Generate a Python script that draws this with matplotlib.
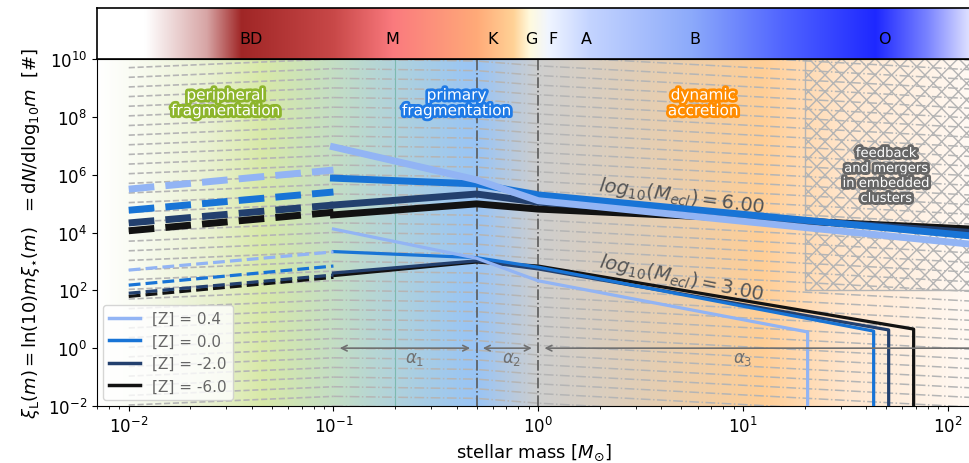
import numpy as np
import matplotlib
matplotlib.use("Agg")
import matplotlib.pyplot as plt
import matplotlib.patheffects as pe
from matplotlib.lines import Line2D
from matplotlib.patches import Rectangle

# ---------------- data (log10 values) ----------------
metallicities = [0.4, 0.0, -2.0, -6.0]
legend_labels = ["[Z] = 0.4", "[Z] = 0.0", "[Z] = -2.0", "[Z] = -6.0"]
series_colors = ["#92b4f4", "#1874d6", "#23406e", "#121212"]

# brown dwarf branch (dashed), masses 0.01 -> 0.1
m_bd = [0.01, 0.1]
bd_logxi_ecl6 = [[5.50, 6.16], [4.77, 5.40], [4.33, 4.95], [4.06, 4.70]]
bd_logxi_ecl3 = [[2.70, 3.33], [2.18, 2.84], [1.90, 2.53], [1.79, 2.45]]

# stellar branch, log10(Mecl)=6
m_star6 = [0.1, 0.5, 1.0, 150.0]
star_logxi_ecl6 = [[6.96, 5.82, 5.10, 3.55],
                   [5.88, 5.68, 5.30, 3.84],
                   [4.95, 5.33, 5.05, 3.97],
                   [4.61, 4.99, 4.81, 4.10]]

# stellar branch, log10(Mecl)=3 (truncated at m_max)
m_max_ecl3 = [20.7, 43.5, 51.5, 68.2]
star_logxi_ecl3 = [[4.12, 3.11, 2.33, 0.56],
                   [3.34, 3.13, 2.80, 0.59],
                   [2.60, 3.02, 2.74, 0.63],
                   [2.51, 2.98, 2.84, 0.66]]

spectral_types = ["BD", "M", "K", "G", "F", "A", "B", "O"]
spectral_mass = [0.0395, 0.193, 0.596, 0.925, 1.18, 1.72, 5.8, 49.0]

XMIN, XMAX = 0.007, 130.0
YMIN, YMAX = 1e-2, 1e10
LX0, LX1 = np.log10(XMIN), np.log10(XMAX)

# ---------------- figure ----------------
fig = plt.figure(figsize=(9.7, 4.64), dpi=100)
ax = fig.add_axes([97/970, 1-407/464, 874/970, 347/464])
axt = fig.add_axes([97/970, 1-60/464, 874/970, 51/464])

def gradient_image(stops, n=1200):
    lm = np.linspace(LX0, LX1, n)
    xs = [s[0] for s in stops]
    cols = np.array([s[1] for s in stops], float) / 255.0
    img = np.zeros((1, n, 3))
    for c in range(3):
        img[0, :, c] = np.interp(lm, xs, cols[:, c])
    return img

bg_stops = [(-2.15, (255, 255, 255)), (-2.0, (250, 252, 244)), (-1.6, (233, 241, 208)),
            (-1.35, (216, 233, 168)), (-1.0, (196, 222, 196)), (-0.7, (176, 210, 220)),
            (-0.3, (152, 196, 246)), (0.0, (206, 206, 206)), (0.5, (226, 206, 182)),
            (1.1, (255, 206, 150)), (1.5, (255, 230, 205)), (2.12, (255, 250, 245))]
ax.imshow(gradient_image(bg_stops), extent=[0, 1, 0, 1], transform=ax.transAxes,
          aspect="auto", zorder=0, interpolation="bilinear")

top_stops = [(-2.15, (255, 255, 255)), (-1.92, (255, 255, 255)), (-1.62, (215, 165, 165)),
             (-1.45, (160, 38, 38)), (-1.0, (200, 72, 72)), (-0.71, (250, 122, 126)),
             (-0.3, (255, 170, 120)), (-0.12, (255, 210, 150)), (-0.04, (255, 250, 222)),
             (0.05, (240, 245, 255)), (0.25, (196, 212, 255)), (0.75, (140, 170, 250)),
             (1.2, (80, 100, 255)), (1.65, (30, 40, 255)), (1.9, (120, 130, 255)),
             (2.12, (228, 230, 255))]
axt.imshow(gradient_image(top_stops), extent=[0, 1, 0, 1], transform=axt.transAxes,
           aspect="auto", zorder=0, interpolation="bilinear")
axt.set_xscale("log")
axt.set_xlim(XMIN, XMAX)
axt.set_ylim(0, 1)
axt.set_xticks([]); axt.set_yticks([])
axt.minorticks_off()
for t, mm in zip(spectral_types, spectral_mass):
    axt.text(mm, 0.4, t, ha="center", va="center", fontsize=11.5, color="black")
for s in axt.spines.values():
    s.set_linewidth(1.2)

ax.set_xscale("log"); ax.set_yscale("log")
ax.set_xlim(XMIN, XMAX); ax.set_ylim(YMIN, YMAX)

# grey background family of lines
offs = np.arange(-4.0, 12.0, 1/3)
for o in offs:
    lb = np.array([-2.0, -1.0])
    ax.plot(10**lb, 10**(o + 0.3*(lb + 1.0)), ls="--", color="#b5b5b5", lw=1.2, zorder=1)
    ls_ = np.array([-1.0, np.log10(0.5), 0.0, 2.3])
    yv = [o, o - 0.1*(np.log10(0.5)+1), 0, 0]
    yv[2] = yv[1] - 0.55*(0 - np.log10(0.5))
    yv[3] = yv[2] - 0.38*2.3
    ax.plot(10**ls_, 10**np.array(yv), ls="-.", color="#b5b5b5", lw=1.1, zorder=1)

# vertical markers
ax.axvline(0.2, color="#7dbab0", lw=0.8, zorder=1.5)
for xv in [0.5, 1.0]:
    ax.axvline(xv, color="#5a5a5a", lw=1.2, ls="-.", zorder=1.5)

# hatched region
plt.rcParams["hatch.color"] = "#b4b4b4"
plt.rcParams["hatch.linewidth"] = 1.0
ax.add_patch(Rectangle((20, 1e2), 300, 1e12, facecolor="none", edgecolor="#b4b4b4",
                       hatch="xx", lw=1.0, zorder=1.6))

# colored lines (drawn from lowest metallicity up, so [Z]=0.4 is on top)
for i in reversed(range(len(series_colors))):
    c = series_colors[i]
    ax.plot(m_bd, 10**np.array(bd_logxi_ecl6[i]), color=c, lw=5, ls="--", zorder=3)
    ax.plot(m_bd, 10**np.array(bd_logxi_ecl3[i]), color=c, lw=2.3, ls="--", zorder=3)
    ax.plot(m_star6, 10**np.array(star_logxi_ecl6[i]), color=c, lw=5, zorder=3)
    mm = [0.1, 0.5, 1.0, m_max_ecl3[i], m_max_ecl3[i]]
    yy = star_logxi_ecl3[i] + [-6]
    ax.plot(mm, 10**np.array(yy), color=c, lw=2.3, zorder=3)

# Mecl labels
ax.text(10**((680-537)/204.5), 10**(10-(197-60)/28.92), r"$log_{10}(M_{ecl}) = 6.00$",
        rotation=-7.6, ha="center", va="center", fontsize=14, color="#555555", zorder=4)
ax.text(10**((680-537)/204.5), 10**(10-(278-60)/28.92), r"$log_{10}(M_{ecl}) = 3.00$",
        rotation=-11.5, ha="center", va="center", fontsize=14, color="#555555", zorder=4)

def region_text(x, y, s, col, fs=11, lsp=1.05):
    ax.text(x, y, s, ha="center", va="center", fontsize=fs, color="white", zorder=5,
            linespacing=lsp,
            path_effects=[pe.withStroke(linewidth=4, foreground=col)])

region_text(0.0298, 10**(10-(104-60)/28.92), "peripheral\nfragmentation", "#8db52c")
region_text(0.40, 10**(10-(104-60)/28.92), "primary\nfragmentation", "#1f7ae6")
region_text(10**((702-537)/204.5), 10**(10-(104-60)/28.92), "dynamic\naccretion", "#ff8c00")
region_text(10**((885-537)/204.5), 10**(10-(177-60)/28.92),
            "feedback\nand mergers\nin embedded\nclusters", "#666666", fs=9.5, lsp=1.2)

# alpha arrows
acol = "#707070"
for (a, b), lab, xl in [((0.104, 0.48), r"$\alpha_1$", 0.248),
                        ((0.52, 0.96), r"$\alpha_2$", 0.738),
                        ((1.04, 200), r"$\alpha_3$", 10.0)]:
    ax.annotate("", xy=(a, 1), xytext=(b, 1),
                arrowprops=dict(arrowstyle="<->", color=acol, lw=1.2), zorder=4)
    ax.text(xl, 0.93, lab, ha="center", va="top", fontsize=12, color=acol, zorder=4)

# legend
handles = [Line2D([], [], color=c, lw=2.5) for c in series_colors]
leg = ax.legend(handles, legend_labels, loc="lower left", fontsize=11, framealpha=0.8,
                labelcolor="#666666", borderaxespad=0.4)
leg.set_zorder(6)

ax.tick_params(axis="both", labelsize=12)
ax.set_xlabel(r"stellar mass [$M_{\odot}$]", fontsize=13)
ax.set_ylabel(r"$\xi_{\rm L}(m) = \ln(10) m \xi_{\star}(m)\ \ = {\rm d}N/{\rm dlog}_{10}m$  [#]",
              fontsize=13)
ax.set_yticks([1e-2, 1e0, 1e2, 1e4, 1e6, 1e8, 1e10])
ax.yaxis.set_minor_locator(matplotlib.ticker.NullLocator())

fig.savefig("out.png", dpi=100)
